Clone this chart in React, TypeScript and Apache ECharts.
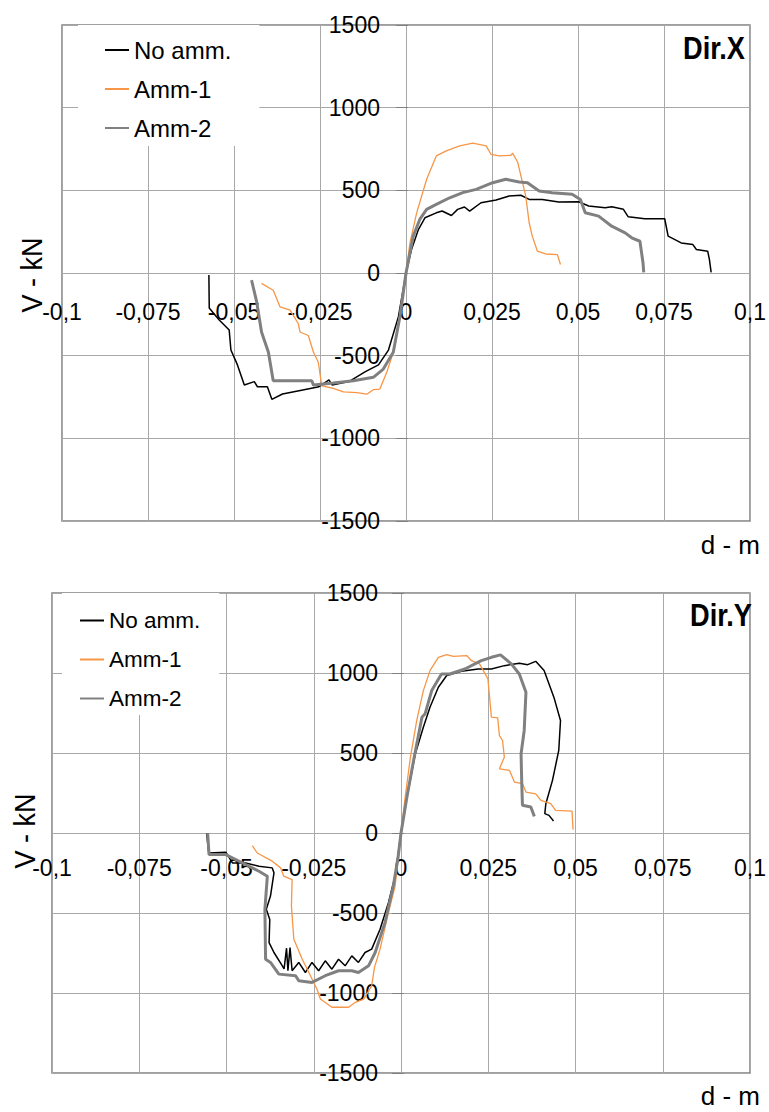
import React, { useEffect, useRef } from "react";
import * as echarts from "echarts";

const seriesNames = ["No amm.", "Amm-1", "Amm-2"];
const seriesColors = ["#000000", "#F79646", "#808080"];
const seriesWidths = [1.5, 1.3, 3];

// Tick values
const xTickMin = -0.1;
const xTickMax = 0.1;
const xTickStep = 0.025;
const yTickMin = -1500;
const yTickMax = 1500;
const yTickStep = 500;

// ---- Dir.X ----
const dirX_noAmm_d = [-0.0573, -0.0572, -0.0543, -0.0514, -0.0509, -0.049, -0.047, -0.0441, -0.0432, -0.0403, -0.039, -0.0359, -0.0311, -0.0253, -0.0224, -0.0215, -0.0166, -0.0118, -0.008, -0.0051, -0.0022, 0,
  0.0016, 0.0036, 0.0055, 0.0088, 0.0105, 0.012, 0.0132, 0.015, 0.017, 0.0185, 0.0218, 0.0262, 0.03, 0.0334, 0.0358, 0.0396, 0.0444, 0.0502, 0.0531, 0.0579, 0.0598, 0.0632, 0.0646, 0.0694, 0.0752, 0.0762, 0.08, 0.0834, 0.0844, 0.0877, 0.0882, 0.0887];
const dirX_noAmm_v = [-12, -212, -284, -345, -466, -556, -677, -657, -688, -688, -764, -732, -712, -688, -647, -677, -657, -597, -556, -466, -264, 0,
  142, 263, 334, 364, 375, 360, 348, 385, 399, 374, 425, 441, 466, 470, 445, 445, 429, 431, 405, 395, 401, 385, 340, 328, 328, 223, 182, 172, 142, 132, 81, 4];

const dirX_amm1_d = [-0.042, -0.0386, -0.0366, -0.0337, -0.0313, -0.0308, -0.0284, -0.0269, -0.0255, -0.0245, -0.0211, -0.0182, -0.0143, -0.0114, -0.0095, -0.0076, -0.0056, -0.0037, -0.0022, -0.0008, 0,
  0.00115, 0.0031, 0.006, 0.0088, 0.0117, 0.0156, 0.0194, 0.0233, 0.0247, 0.0271, 0.0305, 0.031, 0.0325, 0.0334, 0.0348, 0.0358, 0.0367, 0.0382, 0.0406, 0.044, 0.0449];
const dirX_amm1_v = [-63, -104, -205, -225, -307, -357, -378, -479, -540, -682, -698, -719, -723, -733, -706, -702, -601, -479, -317, -93, 0,
  182, 364, 567, 708, 739, 769, 785, 769, 718, 708, 712, 725, 668, 587, 466, 304, 223, 132, 115, 111, 51];

const dirX_amm2_d = [-0.0449, -0.0434, -0.042, -0.04, -0.0386, -0.0337, -0.0274, -0.0269, -0.0211, -0.0153, -0.0095, -0.0066, -0.0037, -0.0017, 0,
  0.0021, 0.004, 0.006, 0.0088, 0.0127, 0.0165, 0.0204, 0.0252, 0.029, 0.0329, 0.0353, 0.0387, 0.0425, 0.0483, 0.0507, 0.0521, 0.056, 0.0598, 0.0637, 0.0656, 0.068, 0.0689, 0.0691];
const dirX_amm2_v = [-43, -175, -357, -479, -652, -652, -652, -678, -666, -652, -631, -581, -479, -256, 0,
  223, 324, 385, 415, 455, 486, 506, 546, 567, 550, 546, 496, 486, 476, 445, 364, 344, 283, 243, 213, 192, 61, 4];

// ---- Dir.Y ----
const dirY_noAmm_d = [-0.0557, -0.0551, -0.0502, -0.0483, -0.0445, -0.0407, -0.0369, -0.0364, -0.0374, -0.0386, -0.0376, -0.0378, -0.0364, -0.034, -0.0335, -0.0328, -0.0324, -0.0318, -0.0312, -0.0293, -0.0274, -0.0255, -0.0236, -0.0217, -0.0198, -0.0179, -0.016, -0.0141, -0.0122, -0.0103, -0.0084, -0.006, -0.0036, -0.0017, 0,
  0.0017, 0.0041, 0.0064, 0.0083, 0.0107, 0.0131, 0.0173, 0.0221, 0.0259, 0.0296, 0.0339, 0.0363, 0.0386, 0.041, 0.0438, 0.0457, 0.0452, 0.0434, 0.0415, 0.0412, 0.0424, 0.0437];
const dirY_noAmm_v = [0, -125, -120, -187, -187, -208, -218, -249, -394, -477, -540, -685, -747, -830, -850, -720, -860, -716, -861, -809, -872, -809, -861, -799, -851, -789, -830, -768, -809, -747, -726, -602, -436, -270, 0,
  225, 495, 661, 786, 911, 984, 1011, 1025, 1025, 1046, 1061, 1052, 1073, 1015, 849, 703, 516, 329, 183, 121, 110, 75];

const dirY_amm1_d = [-0.0426, -0.0412, -0.0369, -0.0345, -0.0336, -0.0312, -0.0314, -0.0307, -0.0283, -0.0264, -0.0241, -0.0231, -0.0198, -0.015, -0.0131, -0.0107, -0.0084, -0.0076, -0.006, -0.0036, -0.0017, 0,
  0.0012, 0.0027, 0.0045, 0.0064, 0.0083, 0.0107, 0.0131, 0.015, 0.0188, 0.0202, 0.0225, 0.0249, 0.0259, 0.0277, 0.0282, 0.0291, 0.0296, 0.0282, 0.0311, 0.0325, 0.0348, 0.0358, 0.0386, 0.0401, 0.0429, 0.0443, 0.049, 0.0493];
const dirY_amm1_v = [-79, -125, -176, -218, -270, -291, -457, -664, -789, -872, -975, -1038, -1089, -1089, -1058, -1038, -955, -840, -726, -498, -332, 0,
  225, 474, 703, 890, 1015, 1098, 1115, 1104, 1109, 1077, 1057, 963, 724, 720, 609, 578, 474, 401, 391, 318, 308, 256, 245, 204, 183, 141, 137, 21];

const dirY_amm2_d = [-0.0554, -0.055, -0.0502, -0.0445, -0.0407, -0.0383, -0.039, -0.0388, -0.0374, -0.035, -0.0302, -0.0293, -0.0255, -0.0217, -0.0179, -0.0141, -0.0122, -0.0093, -0.0074, -0.0046, -0.0022, -0.0008, 0,
  0.0017, 0.0036, 0.006, 0.0069, 0.0088, 0.0116, 0.014, 0.0183, 0.023, 0.0259, 0.0285, 0.0316, 0.0339, 0.0358, 0.0353, 0.0344, 0.0346, 0.0348, 0.0372, 0.0382];
const dirY_amm2_v = [0, -135, -135, -197, -239, -270, -477, -789, -809, -882, -892, -923, -934, -892, -861, -861, -872, -830, -747, -560, -332, -145, 0,
  225, 453, 724, 745, 890, 994, 994, 1025, 1077, 1098, 1113, 1057, 994, 880, 641, 495, 308, 173, 162, 104];

const FONT = '"Liberation Sans", Arial, sans-serif';

function zip(d: number[], v: number[]) {
  return d.map((x, i) => [x, v[i]]);
}

function fmtX(val: number) {
  const r = Math.round(val * 1000) / 1000;
  if (r === 0) return "0";
  return String(r).replace(".", ",");
}

function fmtY(val: number) {
  return String(Math.round(val));
}

export default function App() {
  const ref = useRef<HTMLDivElement>(null);
  useEffect(() => {
    document.body.style.margin = "0";
    if (!ref.current) return;
    const chart = echarts.init(ref.current, null, { renderer: "svg" });

    const grids = [
      { left: 62, top: 25, width: 692, height: 496 },
      { left: 52, top: 593, width: 704, height: 480 },
    ];
    const xLabelMargin = [27, 23];
    const yLabelMargin = [28, 26];

    // axes cross at zero: shift the axes from the grid edges to the middle
    const xAxes = grids.map((g, i) => ({
      type: "value",
      gridIndex: i,
      position: "bottom",
      offset: -g.height / 2,
      min: xTickMin,
      max: xTickMax,
      interval: xTickStep,
      axisLine: { show: false, onZero: false },
      axisTick: { show: false },
      axisLabel: {
        fontFamily: FONT,
        fontSize: 23,
        color: "#000",
        margin: xLabelMargin[i],
        formatter: fmtX,
        showMinLabel: true,
        showMaxLabel: true,
      },
      splitLine: { show: true, lineStyle: { color: "#a8a8a8", width: 1 } },
    }));
    const yAxes = grids.map((g, i) => ({
      type: "value",
      gridIndex: i,
      position: "left",
      offset: -g.width / 2,
      min: yTickMin,
      max: yTickMax,
      interval: yTickStep,
      axisLine: { show: false, onZero: false },
      axisTick: { show: true, length: 12, lineStyle: { color: "#808080" } },
      axisLabel: {
        fontFamily: FONT,
        fontSize: 23,
        color: "#000",
        margin: yLabelMargin[i],
        formatter: fmtY,
      },
      splitLine: { show: true, lineStyle: { color: "#a8a8a8", width: 1 } },
    }));

    const dataSets = [
      [zip(dirX_noAmm_d, dirX_noAmm_v), zip(dirX_amm1_d, dirX_amm1_v), zip(dirX_amm2_d, dirX_amm2_v)],
      [zip(dirY_noAmm_d, dirY_noAmm_v), zip(dirY_amm1_d, dirY_amm1_v), zip(dirY_amm2_d, dirY_amm2_v)],
    ];

    const series: any[] = [];
    dataSets.forEach((sets, gi) => {
      sets.forEach((data, si) => {
        series.push({
          type: "line",
          name: seriesNames[si],
          xAxisIndex: gi,
          yAxisIndex: gi,
          data,
          symbol: "none",
          showSymbol: false,
          smooth: false,
          lineStyle: { color: seriesColors[si], width: seriesWidths[si] },
          itemStyle: { color: seriesColors[si] },
          z: 3 + si,
        });
      });
    });

    const legendBase = {
      orient: "vertical",
      selectedMode: false,
      data: seriesNames,
      itemWidth: 24,
      itemHeight: 14,
      backgroundColor: "#ffffff",
      itemStyle: { opacity: 0, color: "rgba(0,0,0,0)", borderWidth: 0 },
    };

    chart.setOption({
      animation: false,
      grid: grids.map((g) => ({
        ...g,
        show: true,
        borderColor: "#808080",
        borderWidth: 1.5,
        backgroundColor: "#ffffff",
        containLabel: false,
      })),
      xAxis: xAxes,
      yAxis: yAxes,
      legend: [
        {
          ...legendBase, left: 78, top: 25, padding: [13, 28, 6, 26], itemGap: 15,
          textStyle: { fontFamily: FONT, fontSize: 24, color: "#000", lineHeight: 24 },
        },
        {
          ...legendBase, left: 62, top: 593, padding: [16, 19, 5, 17], itemGap: 16,
          textStyle: { fontFamily: FONT, fontSize: 22.5, color: "#000", lineHeight: 22.5 },
        },
      ],
      series,
      graphic: [
        {
          type: "text", x: 745, y: 48, scaleX: 0.85, z: 10,
          style: { text: "Dir.X", font: `bold 32px ${FONT}`, fill: "#000", textAlign: "right", textVerticalAlign: "middle" },
        },
        {
          type: "text", x: 752, y: 615, scaleX: 0.85, z: 10,
          style: { text: "Dir.Y", font: `bold 32px ${FONT}`, fill: "#000", textAlign: "right", textVerticalAlign: "middle" },
        },
        {
          type: "text", x: 31, y: 275, rotation: Math.PI / 2, scaleX: 0.9, z: 10,
          style: { text: "V - kN", font: `30px ${FONT}`, fill: "#000", textAlign: "center", textVerticalAlign: "middle" },
        },
        {
          type: "text", x: 24, y: 831, rotation: Math.PI / 2, scaleX: 0.9, z: 10,
          style: { text: "V - kN", font: `30px ${FONT}`, fill: "#000", textAlign: "center", textVerticalAlign: "middle" },
        },
        {
          type: "text", x: 760, y: 545, z: 10,
          style: { text: "d - m", font: `26px ${FONT}`, fill: "#000", textAlign: "right", textVerticalAlign: "middle" },
        },
        {
          type: "text", x: 760, y: 1096, z: 10,
          style: { text: "d - m", font: `26px ${FONT}`, fill: "#000", textAlign: "right", textVerticalAlign: "middle" },
        },
      ],
    });
    return () => chart.dispose();
  }, []);
  return <div ref={ref} style={{ width: 769, height: 1112 }} />;
}
